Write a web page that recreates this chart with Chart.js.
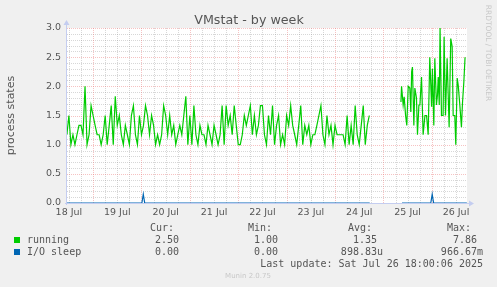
<!DOCTYPE html>
<html>
<head>
<meta charset="utf-8">
<script src="https://cdn.jsdelivr.net/npm/chart.js@4.4.1/dist/chart.umd.min.js"></script>
<style>
html, body { margin: 0; padding: 0; background: #f0f0f0; }
#wrap { width: 497px; height: 287px; position: relative; }
</style>
</head>
<body>
<div id="wrap"><canvas id="vmstat"></canvas></div>
<script>
// hours counted from 18 Jul 00:00
const dayLabels = ["18 Jul", "19 Jul", "20 Jul", "21 Jul", "22 Jul", "23 Jul", "24 Jul", "25 Jul", "26 Jul"];
const yTicks = ["0.0", "0.5", "1.0", "1.5", "2.0", "2.5", "3.0"];

// running, hourly samples starting at hour -1
const runningEarly = [
  1.17, 1.5, 1.0, 1.17, 1.0, 1.17, 1.33, 1.33, 1.17, 2.0,
  1.0, 1.17, 1.67, 1.5, 1.33, 1.17, 1.17, 1.0, 1.17, 1.5,
  1.0, 1.33, 1.67, 1.0, 1.83, 1.33, 1.5, 1.17, 1.0, 1.33,
  1.17, 1.0, 1.5, 1.67, 1.17, 1.0, 1.5, 1.17, 1.33, 1.67,
  1.5, 1.17, 1.5, 1.33, 1.0, 1.17, 1.0, 1.17, 1.67, 1.5,
  1.17, 1.5, 1.17, 1.33, 1.0, 1.17, 1.33, 1.17, 1.5, 1.83,
  1.0, 1.5, 1.0, 1.67, 1.17, 1.0, 1.33, 1.17, 1.17, 1.0,
  1.33, 1.17, 1.0, 1.33, 1.17, 1.0, 1.17, 1.67, 1.0, 1.67,
  1.33, 1.5, 1.17, 1.67, 1.33, 1.0, 1.0, 1.17, 1.5, 1.33,
  1.5, 1.67, 1.17, 1.5, 1.17, 1.33, 1.67, 1.67, 1.17, 1.0,
  1.5, 1.17, 1.67, 1.0, 1.33, 1.5, 1.0, 1.17, 1.0, 1.5,
  1.33, 1.67, 1.33, 1.17, 1.0, 1.33, 1.67, 1.0, 1.33, 1.17,
  1.33, 1.0, 1.17, 1.17, 1.33, 1.5, 1.67, 1.17, 1.0, 1.5,
  1.17, 1.33, 1.0, 1.33, 1.17, 1.17, 1.17, 1.17, 1.0, 1.5,
  1.0, 1.33, 1.0, 1.67, 1.17, 1.0, 1.33, 1.67, 1.0, 1.33,
  1.5
];
const runningEarlyStart = -1;

// running after the gap
const runningLateHours = [164.7, 165.0, 165.8, 166.3, 167.0, 167.6, 168.3, 169.1, 169.6, 170.0,
  170.4, 171.1, 171.6, 172.4, 172.9, 173.6, 174.1, 174.9, 175.7, 176.6,
  177.4, 178.2, 179.0, 179.9, 180.3, 181.0, 181.5, 182.3, 182.8, 183.2,
  183.7, 184.1, 184.8, 185.6, 186.1, 186.8, 187.6, 188.6, 189.4, 190.1,
  190.6, 191.4, 191.9, 192.6, 193.1, 193.9, 194.7, 195.2, 195.9, 196.5];
const runningLate = [1.73, 2.0, 1.68, 1.82, 1.5, 1.33, 2.0, 1.97, 1.56, 2.25,
  2.33, 1.33, 1.97, 1.8, 1.17, 1.68, 1.68, 2.16, 1.17, 1.5,
  1.5, 1.17, 2.5, 1.65, 2.3, 1.33, 2.48, 1.68, 1.85, 2.16,
  1.68, 3.0, 1.5, 1.5, 2.85, 1.5, 2.48, 1.3, 2.82, 2.68,
  1.5, 1.5, 1.0, 2.14, 2.02, 1.68, 1.3, 1.7, 2.08, 2.5];

const ioSleepHours = [-1, 36.2, 36.9, 37.6, 149.2, 157, 165.2, 179.5, 180.2, 180.9, 197.4];
const ioSleep = [0, 0, 0.15, 0, 0, null, 0, 0, 0.15, 0, 0];

const legendRows = [
  ["running", "#00cc00", "2.50", "1.00", "1.35", "7.86"],
  ["I/O sleep", "#0066b3", "0.00", "0.00", "898.83u", "966.67m"]
];

const runningData = runningEarly.map((v, i) => ({ x: runningEarlyStart + i, y: v }));
runningData.push({ x: 157, y: null });
runningLateHours.forEach((h, i) => runningData.push({ x: h, y: runningLate[i] }));
const ioData = ioSleepHours.map((h, i) => ({ x: h, y: ioSleep[i] }));

const muninPlugin = {
  id: 'munin',
  beforeDraw(chart) {
    const ctx = chart.ctx, a = chart.chartArea;
    const xs = chart.scales.x, ys = chart.scales.y;
    ctx.save();
    ctx.fillStyle = '#f0f0f0';
    ctx.fillRect(0, 0, chart.width, chart.height);
    ctx.fillStyle = '#ffffff';
    ctx.fillRect(a.left, a.top, a.right - a.left, a.bottom - a.top);
    ctx.lineWidth = 1;
    ctx.setLineDash([1, 1]);
    // minor grid
    ctx.strokeStyle = 'rgba(150,150,150,0.38)';
    for (let h = 0; h <= 197; h += 6) {
      if ((h - 12) % 24 === 0) continue;
      const px = Math.round(xs.getPixelForValue(h)) + 0.5;
      ctx.beginPath(); ctx.moveTo(px, a.top); ctx.lineTo(px, a.bottom); ctx.stroke();
    }
    for (let i = 1; i < 30; i++) {
      if (i % 5 === 0) continue;
      const py = Math.round(ys.getPixelForValue(i / 10)) + 0.5;
      ctx.beginPath(); ctx.moveTo(a.left, py); ctx.lineTo(a.right, py); ctx.stroke();
    }
    // major grid
    ctx.strokeStyle = 'rgba(235,120,120,0.45)';
    for (let h = 12; h <= 197; h += 24) {
      const px = Math.round(xs.getPixelForValue(h)) + 0.5;
      ctx.beginPath(); ctx.moveTo(px, a.top); ctx.lineTo(px, a.bottom); ctx.stroke();
    }
    for (let i = 1; i < yTicks.length; i++) {
      const py = Math.round(ys.getPixelForValue(i * 0.5)) + 0.5;
      ctx.beginPath(); ctx.moveTo(a.left, py); ctx.lineTo(a.right, py); ctx.stroke();
    }
    ctx.setLineDash([]);
    // axes with arrows
    ctx.strokeStyle = '#c4cdf0';
    ctx.fillStyle = '#c4cdf0';
    const y0 = Math.round(ys.getPixelForValue(0)) + 0.5;
    const x0 = Math.round(a.left) - 0.5;
    ctx.beginPath(); ctx.moveTo(x0, a.bottom + 2); ctx.lineTo(x0, a.top - 3); ctx.stroke();
    ctx.beginPath(); ctx.moveTo(a.left - 2, y0); ctx.lineTo(a.right + 2, y0); ctx.stroke();
    ctx.beginPath(); ctx.moveTo(x0 - 3, a.top - 3); ctx.lineTo(x0 + 3, a.top - 3); ctx.lineTo(x0, a.top - 8); ctx.closePath(); ctx.fill();
    ctx.beginPath(); ctx.moveTo(a.right + 2, y0 - 3); ctx.lineTo(a.right + 2, y0 + 3); ctx.lineTo(a.right + 7, y0); ctx.closePath(); ctx.fill();
    ctx.restore();
  },
  afterDraw(chart) {
    const ctx = chart.ctx, a = chart.chartArea;
    const xs = chart.scales.x, ys = chart.scales.y;
    ctx.save();
    ctx.fillStyle = '#555555';
    ctx.font = '12.7px "DejaVu Sans"';
    ctx.textAlign = 'center';
    ctx.textBaseline = 'alphabetic';
    ctx.fillText('VMstat - by week', 249, 24);

    ctx.font = '9.5px "DejaVu Sans"';
    ctx.textAlign = 'right';
    ctx.textBaseline = 'middle';
    yTicks.forEach((t, i) => ctx.fillText(t, a.left - 6, ys.getPixelForValue(i * 0.5)));
    ctx.textAlign = 'center';
    dayLabels.forEach((t, i) => ctx.fillText(t, xs.getPixelForValue(i * 24), a.bottom + 10));

    ctx.save();
    ctx.translate(11, (a.top + a.bottom) / 2);
    ctx.rotate(-Math.PI / 2);
    ctx.font = '11px "DejaVu Sans"';
    ctx.fillText('process states', 0, 0);
    ctx.restore();

    ctx.save();
    ctx.translate(488, 53);
    ctx.rotate(Math.PI / 2);
    ctx.fillStyle = '#c8c8c8';
    ctx.font = '7.5px "DejaVu Sans"';
    ctx.fillText('RRDTOOL / TOBI OETIKER', 0, 0);
    ctx.restore();

    // legend
    ctx.font = '10px "DejaVu Sans Mono"';
    ctx.fillStyle = '#555555';
    ctx.textAlign = 'left';
    ctx.fillText('Cur:', 150, 228);
    ctx.fillText('Min:', 248, 228);
    ctx.fillText('Avg:', 348, 228);
    ctx.fillText('Max:', 447, 228);
    legendRows.forEach((r, i) => {
      const y = 240 + i * 12;
      ctx.fillStyle = r[1];
      ctx.fillRect(14, y - 3, 6, 6);
      ctx.fillStyle = '#555555';
      ctx.textAlign = 'left';
      ctx.fillText(r[0], 27, y);
      ctx.textAlign = 'right';
      ctx.fillText(r[2], 179, y);
      ctx.fillText(r[3], 278, y);
      ctx.fillText(r[4] + (/[a-z]$/.test(r[4]) ? '' : ' '), 383, y);
      ctx.fillText(r[5] + (/[a-z]$/.test(r[5]) ? '' : ' '), 483, y);
    });
    ctx.textAlign = 'right';
    ctx.fillText('Last update: Sat Jul 26 18:00:06 2025', 483, 264);
    ctx.textAlign = 'center';
    ctx.fillStyle = '#c8c8c8';
    ctx.font = '7px "DejaVu Sans"';
    ctx.fillText('Munin 2.0.75', 248, 276);
    ctx.restore();
  }
};

new Chart(document.getElementById('vmstat'), {
  type: 'line',
  data: {
    datasets: [
      { label: 'running', data: runningData, borderColor: '#00cc00', borderWidth: 1.2, pointRadius: 0, tension: 0, spanGaps: false },
      { label: 'I/O sleep', data: ioData, borderColor: '#0066b3', borderWidth: 1.2, pointRadius: 0, tension: 0, spanGaps: false }
    ]
  },
  options: {
    responsive: true,
    maintainAspectRatio: false,
    animation: false,
    devicePixelRatio: 1,
    layout: { padding: { left: 67, right: 30, top: 28, bottom: 84 } },
    plugins: { legend: { display: false }, tooltip: { enabled: false } },
    scales: {
      x: { type: 'linear', display: false, min: -0.94, max: 197.46 },
      y: { type: 'linear', display: false, min: 0, max: 3 }
    }
  },
  plugins: [muninPlugin]
});
</script>
</body>
</html>
